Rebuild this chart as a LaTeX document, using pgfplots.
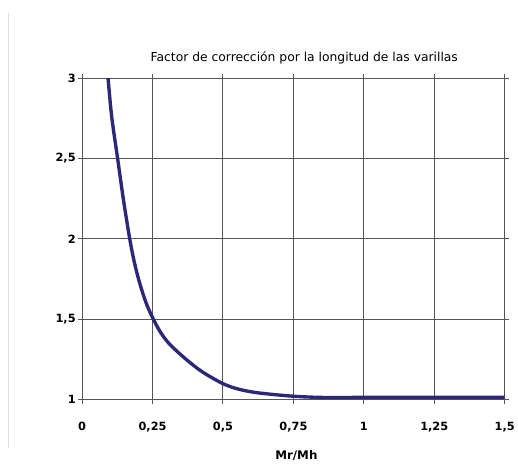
\documentclass[border=0pt]{standalone}
\usepackage{fontspec}
\setmainfont{Liberation Sans}
\newfontfamily\dejavu{DejaVu Sans}
\usepackage{pgfplots}
\pgfplotsset{compat=1.18}
\definecolor{curve}{HTML}{2B2878}
\definecolor{gridc}{HTML}{555555}
\begin{document}
\begin{tikzpicture}
\begin{axis}[
  scale only axis,
  width=427bp, height=325bp,
  xmin=0, xmax=1.5, ymin=1, ymax=3,
  xtick={0,0.25,0.5,0.75,1,1.25,1.5},
  xticklabels={0,{0,25},{0,5},{0,75},1,{1,25},{1,5}},
  ytick={1,1.5,2,2.5,3},
  yticklabels={1,{1,5},2,{2,5},3},
  ticklabel style={font=\dejavu\fontsize{11.5}{13}\selectfont\bfseries},
  /pgf/number format/assume math mode=true,
  xticklabel style={yshift=-15bp},
  yticklabel style={xshift=1bp},
  tick align=outside,
  major tick length=4bp,
  tick style={gridc, line width=1bp},
  axis line style={gridc, line width=1bp},
  grid=major,
  major grid style={gridc, line width=1bp},
  xlabel={\dejavu\fontsize{12}{14}\selectfont\bfseries Mr/Mh},
  xlabel style={yshift=-12bp, xshift=3bp},
  title={\dejavu\fontsize{12.5}{14}\selectfont Factor de corrección por la longitud de las varillas},
  title style={xshift=11bp, yshift=5bp},
  clip=true,
]
\addplot[curve, line width=3.4bp, smooth, tension=0.5] coordinates {
  (0.092,3.0) (0.105,2.76) (0.126,2.5) (0.147,2.24) (0.169,2.0)
  (0.186,1.85) (0.202,1.74) (0.218,1.648) (0.235,1.568) (0.256,1.49)
  (0.28,1.415) (0.311,1.345) (0.37,1.25) (0.428,1.172) (0.498,1.102)
  (0.551,1.068) (0.621,1.044) (0.75,1.022) (0.867,1.014) (1.0,1.015)
  (1.25,1.015) (1.5,1.015)
};
\end{axis}
\path (current axis.south west) ++(-83bp,-59bp) coordinate (bl) rectangle ++(518bp,463bp);
\draw[black!12, line width=1bp] ([xshift=9bp,yshift=10bp]bl) -- ++(0,440bp);
\end{tikzpicture}
\end{document}
